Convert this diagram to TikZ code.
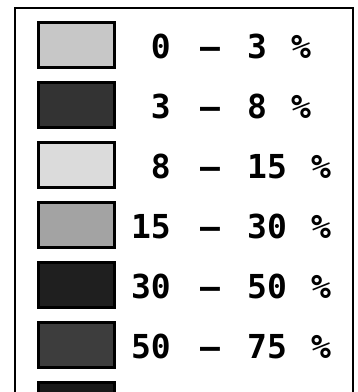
\documentclass[tikz,border=0pt]{standalone}
\usepackage{fontspec}
\newfontfamily\pixfont{DejaVu Sans Mono}
\begin{document}
\begin{tikzpicture}[x=1pt,y=-1pt,
  frameline/.style={line width=2.4pt,black},
  swatch/.style={draw=black,line width=2.6pt,minimum width=76pt,minimum height=45pt,inner sep=0pt,anchor=north west},
  lbl/.style={inner sep=0pt,font=\pixfont\bfseries\fontsize{33pt}{33pt}\selectfont,text=black}
]
\useasboundingbox (0,0) rectangle (358,392);
\clip (0,0) rectangle (358,392);
% frame (open at the bottom)
\coordinate (fbl) at (15,400);
\coordinate (ftl) at (15,8);
\coordinate (ftr) at (353,8);
\coordinate (fbr) at (353,400);
\draw[frameline] (fbl) -- (ftl) -- (ftr) -- (fbr);
% swatches
\definecolor{c1}{gray}{0.78}
\definecolor{c2}{gray}{0.20}
\definecolor{c3}{gray}{0.86}
\definecolor{c4}{gray}{0.64}
\definecolor{c5}{gray}{0.12}
\definecolor{c6}{gray}{0.24}
\definecolor{c7}{gray}{0.10}
\foreach \i/\c in {1/c1,2/c2,3/c3,4/c4,5/c5,6/c6,7/c7}{
  \node[swatch,fill=\c] (b\i) at (37.3,{21.3+60*(\i-1)}) {};
}
% labels
\foreach \i/\a/\b/\px in {1/0/3/301,2/3/8/301,3/8/15/321,4/15/30/321,5/30/50/321,6/50/75/321}{
  \node[lbl,anchor=base east] (l\i) at (171,{58+60*(\i-1)}) {\a};
  \node[lbl,anchor=base] (d\i) at (210,{58+60*(\i-1)}) {–};
  \node[lbl,anchor=base west] (r\i) at (247,{58+60*(\i-1)}) {\b};
  \node[lbl,anchor=base] (p\i) at (\px,{58+60*(\i-1)}) {\%};
}
\end{tikzpicture}
\end{document}
